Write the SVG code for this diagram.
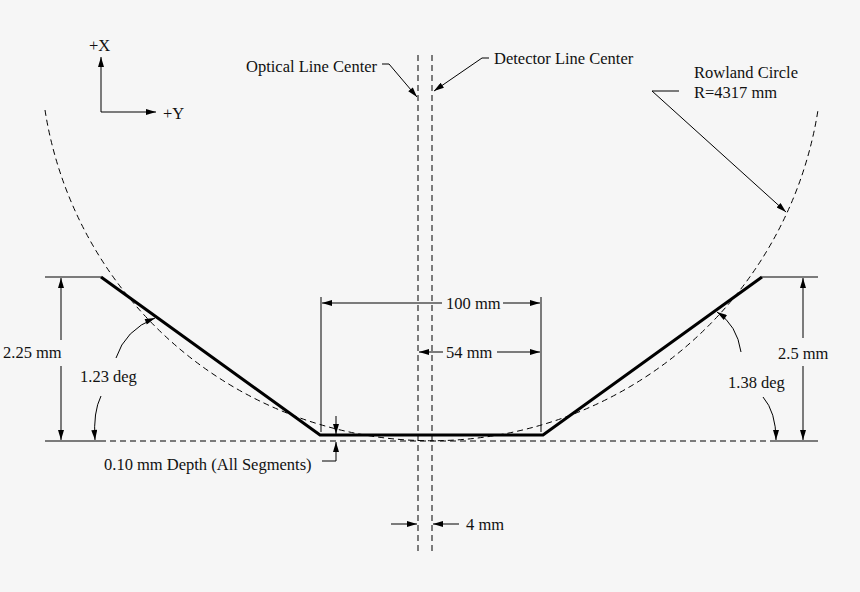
<svg xmlns="http://www.w3.org/2000/svg" width="860" height="592" viewBox="0 0 860 592">
<defs>
<marker id="ah" viewBox="0 0 10 6" refX="10" refY="3" markerWidth="12" markerHeight="6" markerUnits="userSpaceOnUse" orient="auto"><path d="M0,0 L10,3 L0,6 z" fill="#000"/></marker>
</defs>
<style>
text{font-family:"Liberation Serif",serif;font-size:16.5px;fill:#111}
.l{stroke:#000;stroke-width:1;fill:none}
.d{stroke:#000;stroke-width:1;fill:none;stroke-dasharray:6,4}
.a{marker-end:url(#ah)}
.t{stroke:#000;stroke-width:3;fill:none}
</style>
<rect width="860" height="592" fill="#f6f6f6"/>
<g id="centerlines">
<line class="d" x1="418" y1="55" x2="418" y2="552"/>
<line class="d" x1="432" y1="55" x2="432" y2="552"/>
</g>
<g id="rowland">
<path class="d" d="M45,110 A391.2,391.2 0 0 0 818,110"/>
<line class="d" x1="100" y1="441" x2="770" y2="441"/>
<line class="l" x1="45" y1="441" x2="100" y2="441"/>
<line class="l" x1="770" y1="441" x2="818" y2="441"/>
</g>
<g id="profile">
<polyline class="t" points="101,277 320,435 543,435 762,277"/>
<line class="l" x1="45" y1="277" x2="101" y2="277"/>
<line class="l" x1="762" y1="277" x2="818" y2="277"/>
</g>
<g id="axes">
<line class="l a" x1="101" y1="112" x2="101" y2="57"/>
<line class="l a" x1="101" y1="112" x2="156" y2="112"/>
<text x="89" y="51">+X</text>
<text x="163" y="119">+Y</text>
</g>
<g id="connectors">
<polyline class="l a" points="382,64 389,64 417,97"/>
<polyline class="l a" points="489,58 482,58 434,91"/>
<polyline class="l a" points="679,91 652,91 786,212"/>
<line class="l a" x1="61" y1="340" x2="61" y2="278"/>
<line class="l a" x1="61" y1="366" x2="61" y2="440"/>
<line class="l a" x1="803" y1="338" x2="803" y2="278"/>
<line class="l a" x1="803" y1="366" x2="803" y2="440"/>
<path class="l a" d="M116,358 Q125,330 155,318"/>
<path class="l a" d="M101,396 Q93,412 95,440"/>
<path class="l a" d="M741,352 Q737,325 717,312"/>
<path class="l a" d="M763,397 Q776,412 776,440"/>
<line class="l" x1="321" y1="297" x2="321" y2="432"/>
<line class="l" x1="541" y1="297" x2="541" y2="432"/>
<line class="l a" x1="442" y1="303" x2="322" y2="303"/>
<line class="l a" x1="503" y1="303" x2="540" y2="303"/>
<line class="l a" x1="443" y1="352" x2="419" y2="352"/>
<line class="l a" x1="497" y1="352" x2="540" y2="352"/>
<line class="l a" x1="336" y1="416" x2="336" y2="434"/>
<polyline class="l a" points="322,461 336,461 336,442"/>
<line class="l a" x1="391" y1="524" x2="417" y2="524"/>
<line class="l a" x1="459" y1="524" x2="433" y2="524"/>
</g>
<g id="labels">
<text x="246" y="72">Optical Line Center</text>
<text x="494" y="64">Detector Line Center</text>
<text x="694" y="78">Rowland Circle</text>
<text x="694" y="98">R=4317 mm</text>
<text x="3" y="358">2.25 mm</text>
<text x="80" y="382">1.23 deg</text>
<text x="778" y="359">2.5 mm</text>
<text x="728" y="388">1.38 deg</text>
<text x="446" y="309">100 mm</text>
<text x="446" y="358">54 mm</text>
<text x="104" y="470">0.10 mm Depth (All Segments)</text>
<text x="466" y="530">4 mm</text>
</g>
</svg>
